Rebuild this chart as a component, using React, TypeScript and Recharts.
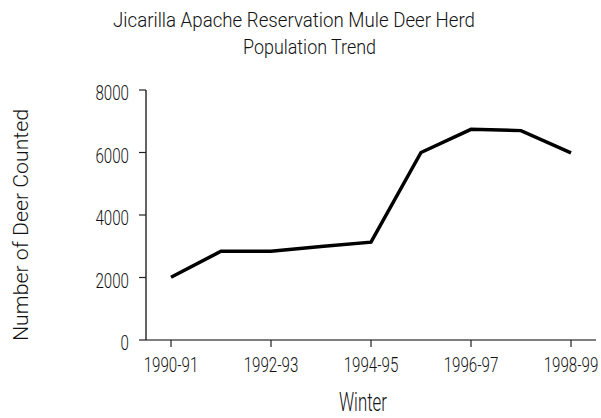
import React from 'react';
import { LineChart, Line, XAxis, YAxis } from 'recharts';

const winters = ['1990-91', '1991-92', '1992-93', '1993-94', '1994-95', '1995-96', '1996-97', '1997-98', '1998-99'];
const deerCounted = [2010, 2840, 2840, 2990, 3130, 6000, 6740, 6700, 5990];
const xTickLabels = ['1990-91', '1992-93', '1994-95', '1996-97', '1998-99'];
const yTicks = [0, 2000, 4000, 6000, 8000];

const FONT = 'Roboto, "Liberation Sans", sans-serif';

// condensed look: squeeze the glyphs horizontally
const XTick = (props: any) => {
  const { x, y, payload } = props;
  return (
    <g transform={`translate(${x},${y + 25}) scale(0.72,1)`}>
      <text x={0} y={0} textAnchor="middle" fontFamily={FONT} fontWeight={300} fontSize={21} fill="#111">
        {payload.value}
      </text>
    </g>
  );
};

const YTick = (props: any) => {
  const { x, y, payload } = props;
  return (
    <g transform={`translate(${x},${y + 10}) scale(0.72,1)`}>
      <text x={0} y={0} textAnchor="end" fontFamily={FONT} fontWeight={300} fontSize={21} fill="#111">
        {payload.value}
      </text>
    </g>
  );
};

const App = () => {
  const data = winters.map((w, i) => ({ winter: w, deer: deerCounted[i] }));

  return (
    <div style={{ position: 'absolute', left: 0, top: 0, width: 601, height: 418, background: '#fff' }}>
      <LineChart width={601} height={418} data={data} margin={{ top: 90, right: 5, bottom: 0, left: 0 }}>
        <XAxis
          dataKey="winter"
          ticks={xTickLabels}
          padding={{ left: 25, right: 25 }}
          height={78}
          tickSize={7}
          tickMargin={0}
          axisLine={{ stroke: '#555', strokeWidth: 1.6 }}
          tickLine={{ stroke: '#222', strokeWidth: 1.2 }}
          tick={<XTick />}
        />
        <YAxis
          domain={[0, 8000]}
          ticks={yTicks}
          width={146}
          tickSize={7}
          tickMargin={10}
          axisLine={{ stroke: '#222', strokeWidth: 1.4 }}
          tickLine={{ stroke: '#222', strokeWidth: 1.2 }}
          tick={<YTick />}
        />
        <Line
          type="linear"
          dataKey="deer"
          stroke="#000"
          strokeWidth={3.5}
          dot={false}
          isAnimationActive={false}
        />
      </LineChart>
      <svg width={601} height={418} style={{ position: 'absolute', left: 0, top: 0, pointerEvents: 'none' }}>
        <text x={113} y={27} fontFamily={FONT} fontWeight={300} fontSize={21} fill="#111"
          textLength={362} lengthAdjust="spacingAndGlyphs">
          Jicarilla Apache Reservation Mule Deer Herd
        </text>
        <text x={243} y={54} fontFamily={FONT} fontWeight={300} fontSize={21} fill="#111"
          textLength={133} lengthAdjust="spacingAndGlyphs">
          Population Trend
        </text>
        <text x={339} y={411} fontFamily={FONT} fontWeight={300} fontSize={25} fill="#111"
          textLength={48} lengthAdjust="spacingAndGlyphs">
          Winter
        </text>
        <text x={0} y={0} transform="translate(28,341) rotate(-90)" fontFamily={FONT} fontWeight={300}
          fontSize={21} fill="#111" textLength={232} lengthAdjust="spacingAndGlyphs">
          Number of Deer Counted
        </text>
      </svg>
    </div>
  );
};

export default App;
